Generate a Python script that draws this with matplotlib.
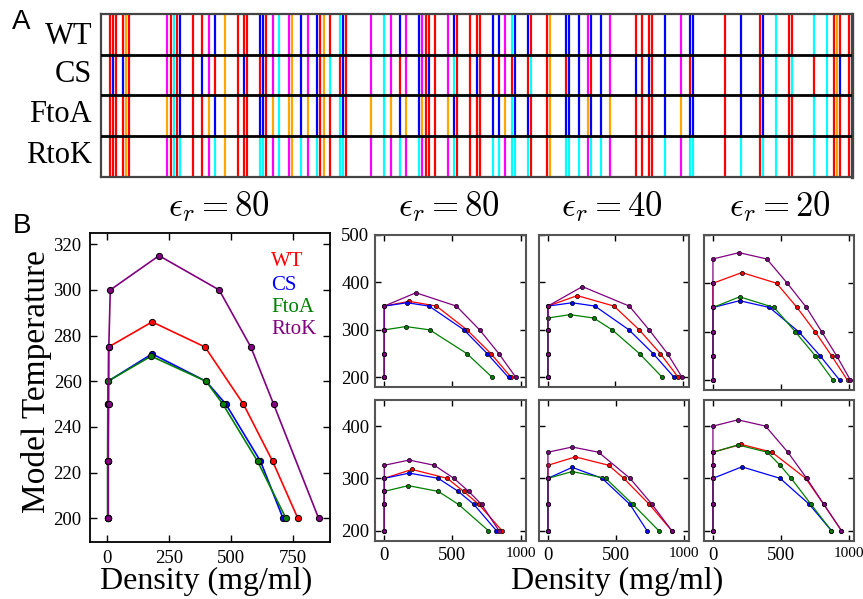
import matplotlib
matplotlib.use("Agg")
import matplotlib.pyplot as plt

plt.rcParams['font.family'] = ['Liberation Serif', 'DejaVu Serif']
plt.rcParams['mathtext.fontset'] = 'cm'

W, H = 863, 599

# ---------------- Panel A data ----------------
row_names = ["WT", "CS", "FtoA", "RtoK"]
residue_positions = [3, 4, 5, 7, 8, 9, 21, 22, 23, 24, 25, 29, 32, 34, 36, 39, 43, 45, 46,
                     50, 51, 52, 54, 56, 59, 60, 63, 65, 68, 69, 70, 72, 75, 76, 77,
                     85, 89, 91, 94, 96, 100, 101, 102, 103, 105, 109, 111, 112, 116, 118, 119,
                     123, 125, 127, 129, 130, 134, 135, 140, 141, 146, 147, 150, 153, 154, 157,
                     160, 168, 170, 172, 173, 177, 182, 185, 186, 196, 201, 207, 208, 212,
                     216, 217, 224, 228, 230, 231, 232, 235]
wt_codes = "rrrror mrcrb rrmbo rrr bbrmc mobm bror cbr mcmbm bmrrr mbr rrr bbmcb br ro bbb mbb m rrrr b mbb r b rb c rr cc ror r"
cs_codes = "rbrbor mrcrb rbmro rbr rbrmc mobm broc rbr mcmrm bmrbr mcr rbr brmrb rc ro rbb mrb m brbr b mrb r b rb c rc rc rob r"
ftoa_codes = "rrrror orcrb rrobo rrr bbroc oobo bror cbr ocobo borrr obr rrr bbocb br ro bbb obb o rrrr b obb r b rb c rr cc ror r"
rtok_codes = "rrrror mrcrc rrmco rrr ccrmc mocm cror ccr mcmcm cmrrr mcr rrr ccmcc cr ro ccc mcc m rrrr c mcc r c rc c rr cc ror r"
row_codes = [wt_codes, cs_codes, ftoa_codes, rtok_codes]
code_colors = {"r": "#ff0000", "b": "#0000ff", "m": "#ff00ff", "c": "#00ffff", "o": "#ffa500"}
sequence_length = 235.8

# ---------------- Panel B data ----------------
series_names = ["WT", "CS", "FtoA", "RtoK"]
series_colors = {"WT": "#ff0000", "CS": "#0000ff", "FtoA": "#008000", "RtoK": "#800080"}

# main panel (eps_r = 80)
main_density = {
    "WT":   [3, 3, 4, 5, 181, 395, 550, 668, 770],
    "CS":   [2, 2, 3, 3, 181, 399, 479, 619, 710],
    "FtoA": [1, 1, 2, 2, 177, 399, 467, 607, 722],
    "RtoK": [4, 4, 5, 6, 12, 209, 452, 580, 672, 854],
}
main_temp = {
    "WT":   [200, 225, 250, 275, 286, 275, 250, 225, 200],
    "CS":   [200, 225, 250, 260, 272, 260, 250, 225, 200],
    "FtoA": [200, 225, 250, 260, 271, 260, 250, 225, 200],
    "RtoK": [200, 225, 250, 275, 300, 315, 300, 275, 250, 200],
}

# top row, eps_r = 80
top80_density = {
    "WT":   [0, 0, 0, 0, 183, 383, 607, 783, 932],
    "CS":   [0, 0, 0, 0, 168, 329, 585, 756, 912],
    "FtoA": [0, 0, 0, 159, 334, 607, 793],
    "RtoK": [0, 0, 0, 0, 232, 529, 700, 841, 966],
}
top80_temp = {
    "WT":   [200, 250, 300, 350, 360, 350, 300, 250, 200],
    "CS":   [200, 250, 300, 350, 357, 350, 300, 250, 200],
    "FtoA": [200, 250, 300, 307, 300, 250, 200],
    "RtoK": [200, 250, 300, 350, 378, 350, 300, 250, 200],
}
# top row, eps_r = 40
top40_density = {
    "WT":   [0, 0, 0, 0, 217, 489, 676, 832, 965],
    "CS":   [0, 0, 0, 0, 179, 348, 600, 779, 935],
    "FtoA": [0, 0, 0, 0, 164, 338, 476, 678, 847],
    "RtoK": [0, 0, 0, 0, 255, 602, 749, 885, 993],
}
top40_temp = {
    "WT":   [200, 250, 300, 350, 372, 350, 300, 250, 200],
    "CS":   [200, 250, 300, 350, 357, 350, 300, 250, 200],
    "FtoA": [200, 250, 300, 325, 332, 325, 300, 250, 200],
    "RtoK": [200, 250, 300, 350, 391, 350, 300, 250, 200],
}
# top row, eps_r = 20
top20_density = {
    "WT":   [0, 0, 0, 0, 0, 213, 468, 619, 752, 874, 990],
    "CS":   [0, 0, 0, 0, 196, 416, 631, 790, 933],
    "FtoA": [0, 0, 0, 0, 196, 450, 606, 754, 884],
    "RtoK": [0, 0, 0, 0, 0, 0, 193, 396, 547, 688, 800, 911, 1012],
}
top20_temp = {
    "WT":   [200, 250, 300, 350, 400, 422, 400, 350, 300, 250, 200],
    "CS":   [200, 250, 300, 350, 364, 350, 300, 250, 200],
    "FtoA": [200, 250, 300, 350, 372, 350, 300, 250, 200],
    "RtoK": [200, 250, 300, 350, 400, 450, 463, 450, 400, 350, 300, 250, 200],
}
# bottom row, eps_r = 80
bot80_density = {
    "WT":   [0, 0, 0, 0, 203, 462, 582, 694, 863],
    "CS":   [0, 0, 0, 0, 183, 396, 543, 658, 822],
    "FtoA": [0, 0, 0, 176, 396, 545, 763],
    "RtoK": [0, 0, 0, 0, 0, 183, 367, 511, 619, 714, 841],
}
bot80_temp = {
    "WT":   [200, 250, 275, 300, 317, 300, 275, 250, 200],
    "CS":   [200, 250, 275, 300, 310, 300, 275, 250, 200],
    "FtoA": [200, 250, 275, 286, 275, 250, 200],
    "RtoK": [200, 250, 275, 300, 325, 335, 325, 300, 275, 250, 200],
}
# bottom row, eps_r = 40
bot40_density = {
    "WT":   [0, 0, 0, 0, 202, 448, 559, 748, 912],
    "CS":   [0, 0, 0, 179, 400, 605, 730],
    "FtoA": [0, 0, 0, 179, 426, 627, 816],
    "RtoK": [0, 0, 0, 0, 179, 373, 605, 768, 912],
}
bot40_temp = {
    "WT":   [200, 250, 300, 325, 341, 325, 300, 250, 200],
    "CS":   [200, 250, 300, 321, 300, 250, 200],
    "FtoA": [200, 250, 300, 313, 300, 250, 200],
    "RtoK": [200, 250, 300, 350, 360, 350, 300, 250, 200],
}
# bottom row, eps_r = 20
bot20_density = {
    "WT":   [0, 0, 0, 0, 208, 434, 682, 816, 945],
    "CS":   [0, 0, 0, 213, 494, 710, 871],
    "FtoA": [0, 0, 0, 0, 0, 184, 400, 494, 576, 722, 871],
    "RtoK": [0, 0, 0, 0, 0, 0, 184, 387, 551, 690, 816, 945],
}
bot20_temp = {
    "WT":   [200, 250, 300, 350, 365, 350, 300, 250, 200],
    "CS":   [200, 250, 300, 322, 300, 250, 200],
    "FtoA": [200, 250, 300, 325, 350, 364, 350, 325, 300, 250, 200],
    "RtoK": [200, 250, 300, 325, 350, 400, 412, 400, 350, 300, 250, 200],
}

main_xticks = [0, 250, 500, 750]
main_yticks = [200, 220, 240, 260, 280, 300, 320]
small_xticks = [0, 500, 1000]
small_xticklabels = ["0", "500", "1000"]
small_yticks_top = [200, 300, 400, 500]
small_yticks_bot = [200, 300, 400]
eps_labels = [r"$\epsilon_r = 80$", r"$\epsilon_r = 80$", r"$\epsilon_r = 40$", r"$\epsilon_r = 20$"]


def px_rect(l, t, r, b):
    return [l / W, 1 - b / H, (r - l) / W, (b - t) / H]


fig = plt.figure(figsize=(W / 100, H / 100), dpi=100)

# ---------------- Panel A ----------------
axA = fig.add_axes(px_rect(100.5, 14, 852, 177))
nrows = len(row_names)
for i, codes in enumerate(row_codes):
    codes = codes.replace(" ", "")
    y0 = nrows - 1 - i
    for pos, code in zip(residue_positions, codes):
        axA.vlines(pos, y0, y0 + 1, colors=code_colors[code], lw=1.6, zorder=1)
for yb in range(1, nrows):
    axA.axhline(yb, color="black", lw=2.0, zorder=3)
axA.set_xlim(0, sequence_length)
axA.set_ylim(0, nrows)
axA.set_xticks([])
axA.set_yticks([])
for s in axA.spines.values():
    s.set_color("#444444")
    s.set_linewidth(1.6)
axA.spines["right"].set_linewidth(2.4)

row_label_y = [36, 75, 114, 155]
for name, yy in zip(row_names, row_label_y):
    fig.text(92 / W, 1 - yy / H, name, ha="right", va="center", fontsize=22)

fig.text(21 / W, 1 - 22 / H, "A", ha="center", va="center", fontsize=20,
         family=["Liberation Sans", "DejaVu Sans"])
fig.text(22 / W, 1 - 226 / H, "B", ha="center", va="center", fontsize=20,
         family=["Liberation Sans", "DejaVu Sans"])

eps_x = [219, 449, 612, 780]
for lab, xx in zip(eps_labels, eps_x):
    fig.text(xx / W, 1 - 207 / H, lab, ha="center", va="center", fontsize=25)

# ---------------- Panel B main ----------------
axM = fig.add_axes(px_rect(90, 233.3, 330, 541.7))
for name in series_names:
    axM.plot(main_density[name], main_temp[name], "-o", color=series_colors[name],
             lw=1.2, ms=4.5, mec="black", mew=0.7)
axM.set_xlim(-70, 900)
axM.set_ylim(189.75, 324.8)
axM.set_xticks(main_xticks)
axM.set_yticks(main_yticks)
axM.tick_params(direction="in", top=True, right=True, length=5, width=1,
                labelsize=13.5, pad=6)
for s in axM.spines.values():
    s.set_linewidth(1.3)
legend_y = [262, 285, 307.5, 330]
for name, yy in zip(series_names, legend_y):
    axM.text((271 - 90) / 240, 1 - (yy - 233.3) / 308.4, name, color=series_colors[name],
             ha="left", va="center", fontsize=15, transform=axM.transAxes)

fig.text(36 / W, 1 - 382 / H, "Model Temperature", rotation=90, ha="center", va="center",
         fontsize=24)
fig.text(206 / W, 1 - 589 / H, "Density (mg/ml)", ha="center", va="baseline", fontsize=23)
fig.text(617 / W, 1 - 589 / H, "Density (mg/ml)", ha="center", va="baseline", fontsize=23)

# ---------------- Panel B small ----------------
small_panels = [
    (top80_density, top80_temp, (375, 234.7, 526, 387), (180, 500), small_yticks_top, True, False),
    (top40_density, top40_temp, (538.7, 234.7, 688.5, 387), (180, 500), small_yticks_top, False, False),
    (top20_density, top20_temp, (703.7, 234.7, 854.3, 390), (180, 500), small_yticks_top, False, False),
    (bot80_density, bot80_temp, (375, 400, 526, 541), (180, 450), small_yticks_bot, True, True),
    (bot40_density, bot40_temp, (538.7, 400, 689, 541), (180, 450), small_yticks_bot, False, True),
    (bot20_density, bot20_temp, (703.7, 400, 854.3, 541), (180, 450), small_yticks_bot, False, True),
]
for dens, temp, rect, ylim, yt, ylab, xlab in small_panels:
    ax = fig.add_axes(px_rect(*rect))
    for name in series_names:
        ax.plot(dens[name], temp[name], "-o", color=series_colors[name],
                lw=0.9, ms=3.0, mec="black", mew=0.5)
    ax.set_xlim(-68, 1040)
    ax.set_ylim(*ylim)
    ax.set_xticks(small_xticks)
    xlabels = ax.set_xticklabels(small_xticklabels, fontsize=13.5)
    if xlabels:
        xlabels[-1].set_fontsize(11)
    ax.set_yticks(yt)
    ax.tick_params(direction="in", top=True, right=True, length=4, width=1, pad=4,
                   labelleft=ylab, labelbottom=xlab)
    ax.tick_params(axis="y", labelsize=13.5)
    for s in ax.spines.values():
        s.set_color("#555555")
        s.set_linewidth(1.5)

fig.savefig("out.png", dpi=100)
